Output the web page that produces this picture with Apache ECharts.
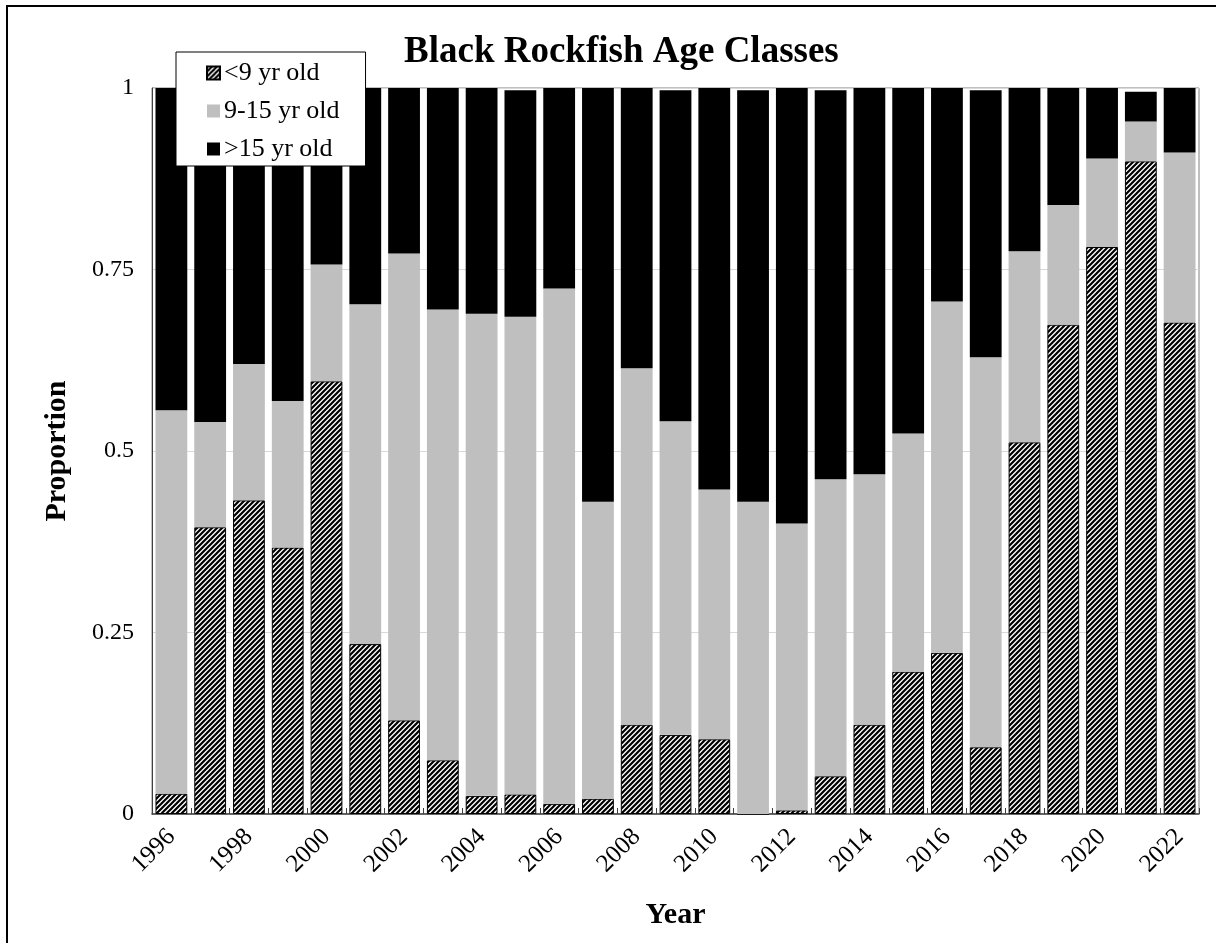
<!DOCTYPE html>
<html lang="en">
    <head>
        <meta charset="utf-8" />
        <title>Black Rockfish Age Classes</title>
        <style type="text/css">
            html, body { margin: 0; padding: 0; background: #ffffff; }
            #chart { width: 1216px; height: 943px; }
        </style>
    </head>
    <body>
        <!--chart container-->
        <div id="chart"></div>

        <script src="https://cdn.jsdelivr.net/npm/echarts@6/dist/echarts.min.js"></script>
        <script>
            // years on the x axis
            const years = ['1996', '1997', '1998', '1999', '2000', '2001', '2002', '2003', '2004',
                '2005', '2006', '2007', '2008', '2009', '2010', '2011', '2012', '2013', '2014',
                '2015', '2016', '2017', '2018', '2019', '2020', '2021', '2022'];

            // proportions
            const under9 = [0.028, 0.395, 0.432, 0.367, 0.596, 0.234, 0.129, 0.074, 0.025,
                0.027, 0.014, 0.021, 0.123, 0.109, 0.103, 0.000, 0.005, 0.052, 0.123,
                0.196, 0.222, 0.092, 0.512, 0.674, 0.781, 0.899, 0.677];
            const age9to15 = [0.528, 0.145, 0.188, 0.202, 0.161, 0.468, 0.643, 0.621, 0.664,
                0.658, 0.710, 0.409, 0.491, 0.432, 0.344, 0.430, 0.395, 0.409, 0.345,
                0.328, 0.484, 0.537, 0.263, 0.165, 0.122, 0.055, 0.234];
            const over15 = [0.444, 0.460, 0.380, 0.431, 0.243, 0.298, 0.228, 0.305, 0.311,
                0.312, 0.276, 0.570, 0.386, 0.456, 0.553, 0.567, 0.600, 0.536, 0.532,
                0.476, 0.294, 0.368, 0.225, 0.161, 0.097, 0.041, 0.089];

            const yTicks = [0, 0.25, 0.5, 0.75, 1];
            const seriesNames = ['<9 yr old', '9-15 yr old', '>15 yr old'];

            const font = '"Liberation Serif", "DejaVu Serif", serif';

            // diagonal hatch tile for the youngest class
            const makeHatch = () => {
                const s = 5;
                const c = document.createElement('canvas');
                c.width = s;
                c.height = s;
                const ctx = c.getContext('2d');
                ctx.fillStyle = '#ffffff';
                ctx.fillRect(0, 0, s, s);
                ctx.strokeStyle = '#000000';
                ctx.lineWidth = 2.2;
                ctx.beginPath();
                ctx.moveTo(-1, s + 1);
                ctx.lineTo(s + 1, -1);
                ctx.moveTo(-1, 1);
                ctx.lineTo(1, -1);
                ctx.moveTo(s - 1, s + 1);
                ctx.lineTo(s + 1, s - 1);
                ctx.stroke();
                return c;
            };
            const hatch = { image: makeHatch(), repeat: 'repeat' };

            let chart = echarts.init(document.querySelector('#chart'), null, { renderer: 'canvas' });

            const option = {
                backgroundColor: '#ffffff',
                animation: false,
                title: {
                    text: 'Black Rockfish Age Classes',
                    left: 399,
                    top: 29,
                    textStyle: { fontFamily: font, fontSize: 37, fontWeight: 'bold', color: '#000' }
                },
                legend: {
                    orient: 'vertical',
                    left: 176,
                    top: 52,
                    data: seriesNames,
                    icon: 'rect',
                    itemWidth: 13,
                    itemHeight: 13,
                    itemGap: 12,
                    padding: [8, 26, 4, 30],
                    backgroundColor: '#ffffff',
                    borderColor: '#000000',
                    borderWidth: 1,
                    z: 10,
                    textStyle: { fontFamily: font, fontSize: 26, color: '#000', padding: [0, 0, 0, -1] }
                },
                graphic: [{
                    type: 'rect',
                    silent: true,
                    z: -10,
                    shape: { x: 7, y: 6, width: 1300, height: 1000 },
                    style: { fill: 'none', stroke: '#000', lineWidth: 2 }
                }],
                grid: {
                    left: 152,
                    right: 17,
                    top: 88,
                    bottom: 129,
                    show: true,
                    borderColor: '#808080',
                    borderWidth: 1
                },
                xAxis: {
                    type: 'category',
                    data: years,
                    name: 'Year',
                    nameLocation: 'middle',
                    nameGap: 86,
                    nameTextStyle: { fontFamily: font, fontSize: 30, fontWeight: 'bold', color: '#000' },
                    axisLine: { lineStyle: { color: '#404040', width: 1.5 } },
                    axisTick: { show: true, inside: true, length: 6, interval: 0, lineStyle: { color: '#404040' } },
                    axisLabel: {
                        interval: 1,
                        rotate: 45,
                        margin: 19,
                        fontFamily: font,
                        fontSize: 25,
                        color: '#000'
                    }
                },
                yAxis: {
                    type: 'value',
                    min: 0,
                    max: 1,
                    interval: 0.25,
                    name: 'Proportion',
                    nameLocation: 'middle',
                    nameGap: 80,
                    nameTextStyle: { fontFamily: font, fontSize: 30, fontWeight: 'bold', color: '#000' },
                    axisLine: { show: true, lineStyle: { color: '#404040', width: 1 } },
                    axisTick: { show: false },
                    splitLine: { lineStyle: { color: '#d9d9d9', width: 1 } },
                    axisLabel: {
                        margin: 18,
                        fontFamily: font,
                        fontSize: 24,
                        color: '#000',
                        formatter: (v) => yTicks.includes(v) ? String(v) : ''
                    }
                },
                series: [
                    {
                        name: seriesNames[0],
                        type: 'bar',
                        stack: 'total',
                        barCategoryGap: '18%',
                        data: under9,
                        itemStyle: { color: hatch, borderColor: '#000', borderWidth: 1 }
                    },
                    {
                        name: seriesNames[1],
                        type: 'bar',
                        stack: 'total',
                        data: age9to15,
                        itemStyle: { color: '#bfbfbf' }
                    },
                    {
                        name: seriesNames[2],
                        type: 'bar',
                        stack: 'total',
                        data: over15,
                        itemStyle: { color: '#000000' }
                    }
                ]
            };

            chart.setOption(option);
        </script>
    </body>
</html>
